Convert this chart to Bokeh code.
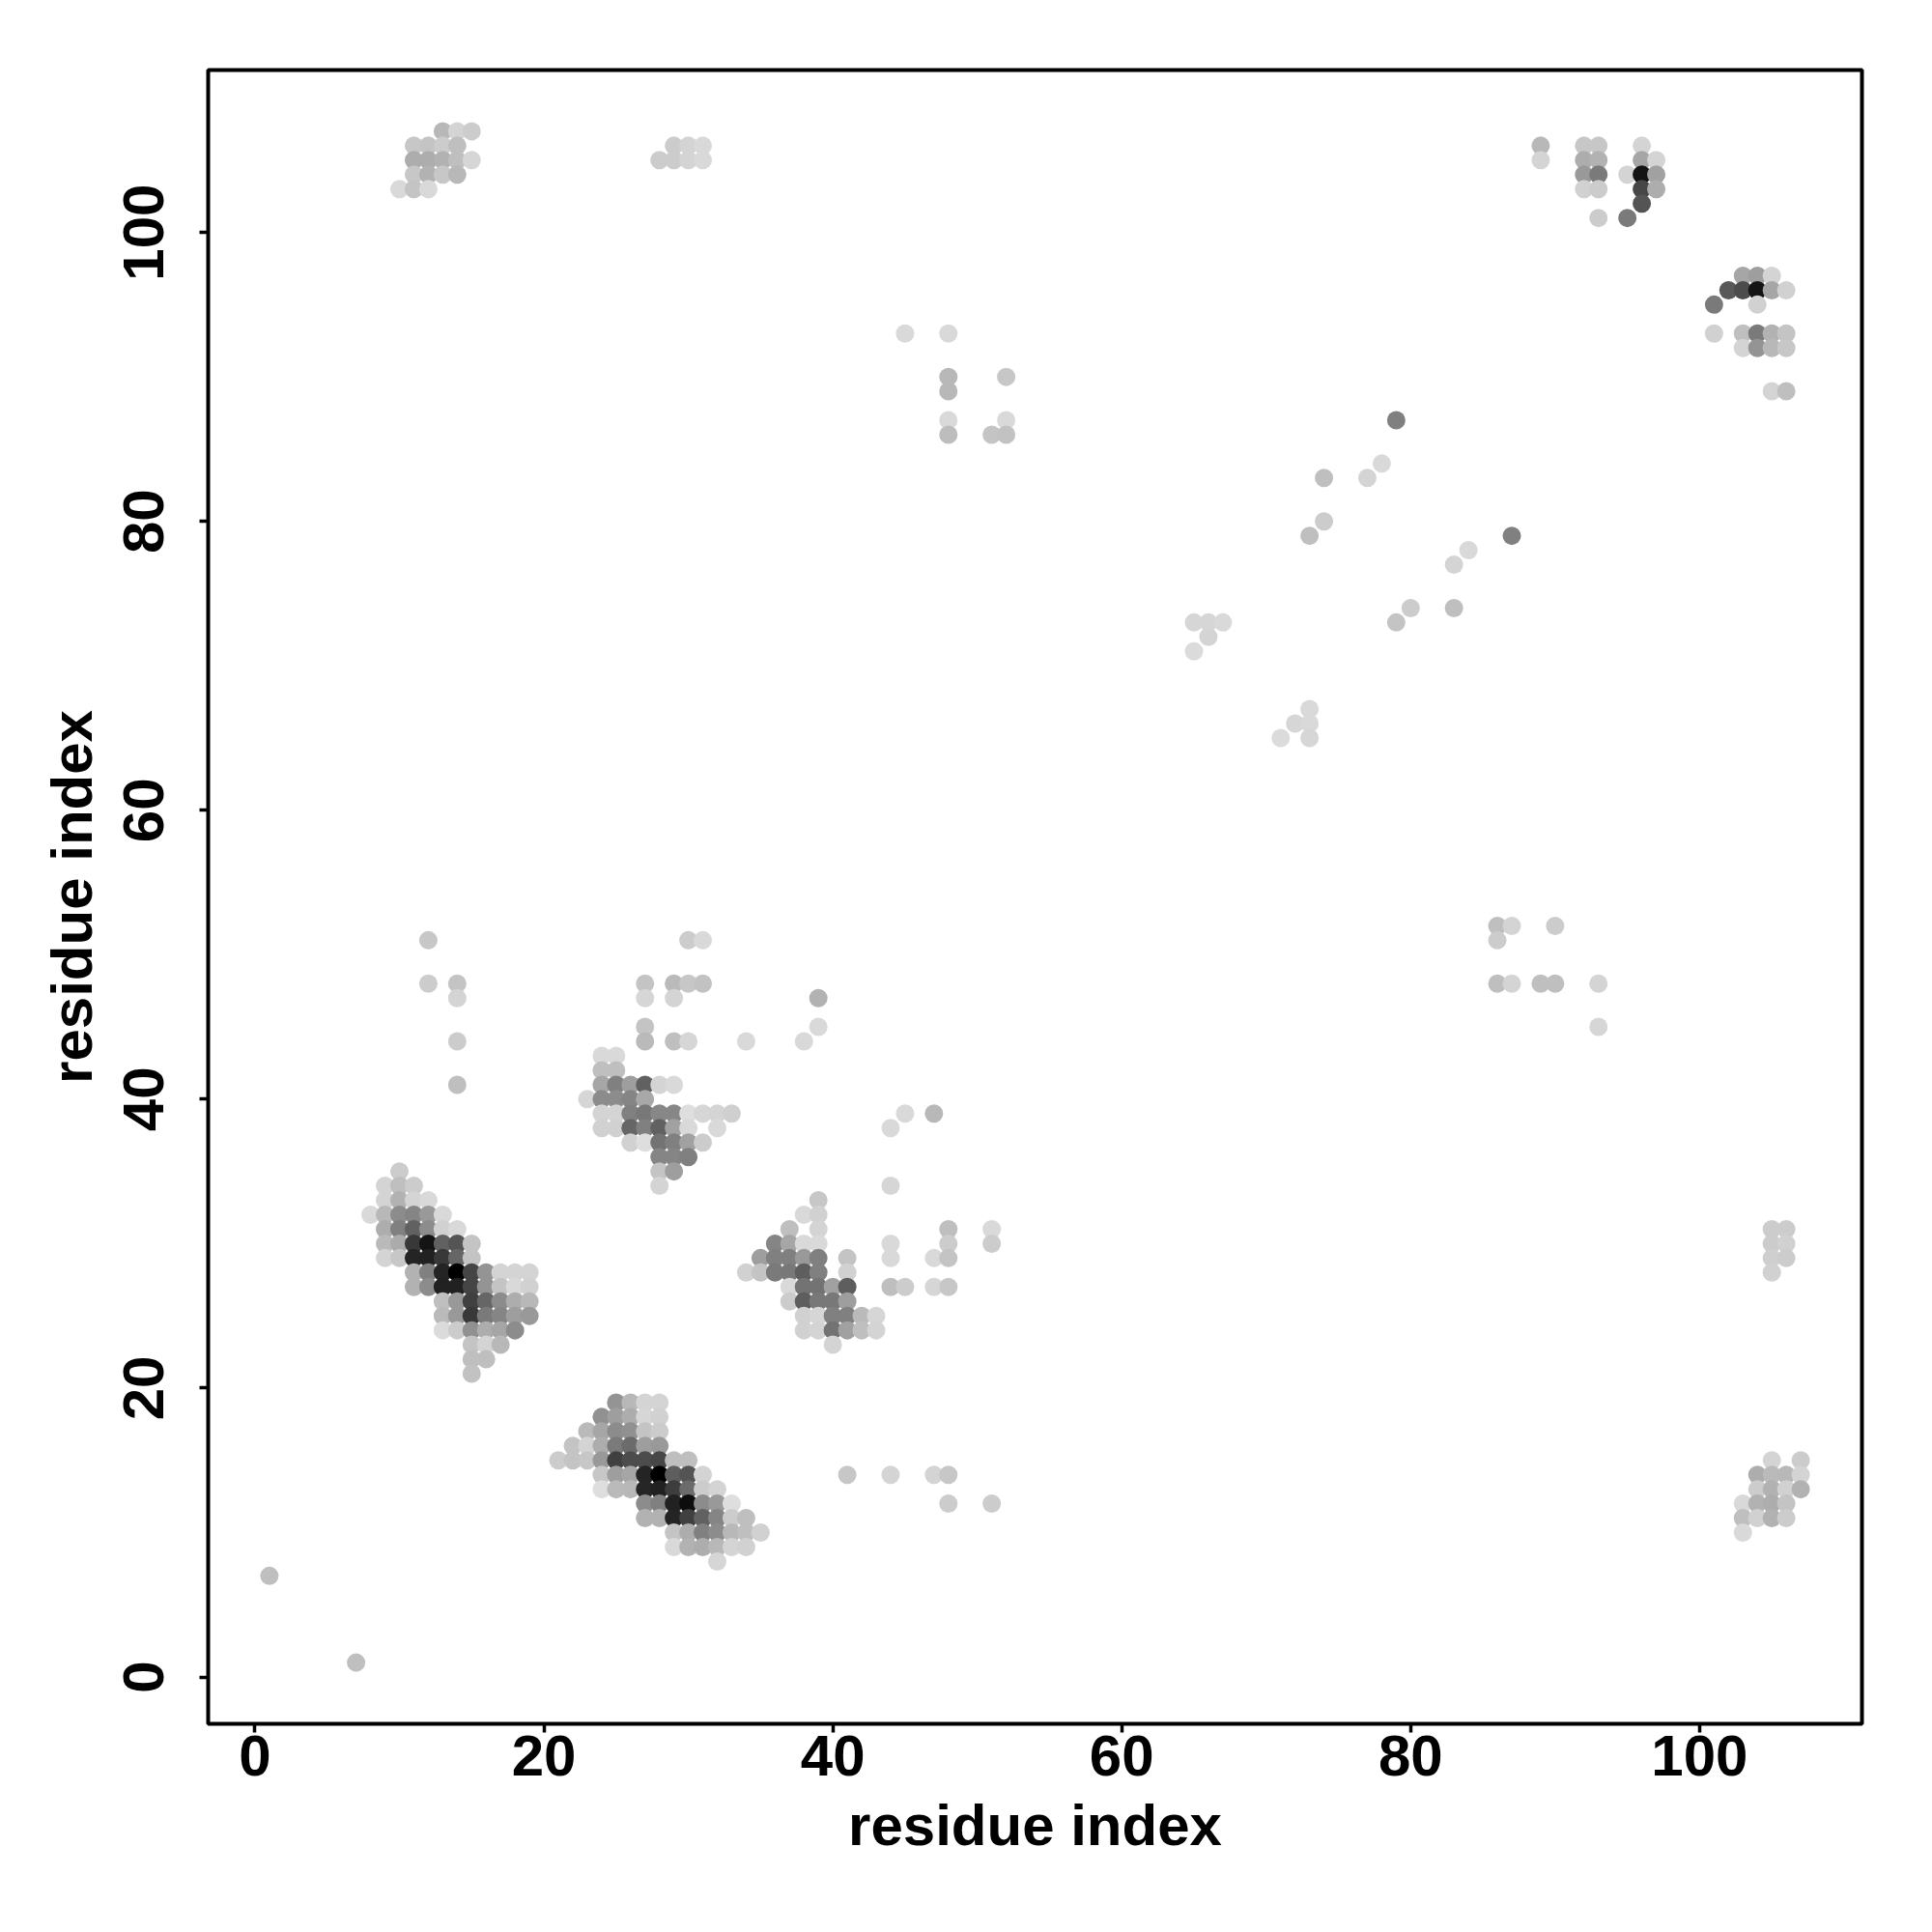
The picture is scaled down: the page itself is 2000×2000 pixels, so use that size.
from bokeh.plotting import figure
from bokeh.models import Range1d, FixedTicker, ColumnDataSource
from bokeh.embed import file_html
from bokeh.resources import INLINE

# each row: one value of y (residue index), its x residue indices, and grey levels
row_y = [
    # cluster around (14, 28)
    35, 34, 33, 32, 31, 30, 29, 28, 27, 26, 25, 24, 23, 22, 21,
    # cluster around (28, 38) with outliers above it
    51, 48, 47, 45, 44, 43, 42, 41, 40, 39, 38, 37, 36, 35, 34,
    # cluster around (28, 14)
    19, 18, 17, 16, 15, 14, 13, 12, 11, 10, 9, 8,
    # isolated low points
    7, 1, 14, 12,
    # cluster around (39, 27)
    33, 32, 31, 30, 29, 28, 27, 26, 25, 24, 23,
    # points right of it
    39, 38, 34, 31, 30, 29, 28, 27,
    # top left
    107, 106, 105, 104, 103,
    # top middle
    106, 105,
    # top right
    106, 105, 104, 103, 102, 101,
    # upper right
    97, 96, 95, 93, 92, 89,
    # bottom right
    15, 14, 13, 12, 11, 10,
    # right middle
    31, 30, 29, 28,
    # upper middle
    93, 90, 89, 87, 86,
    # central scatter
    87, 84, 83, 80, 79, 78, 77, 74, 73, 72, 71, 67, 66, 65,
    # centre right
    52, 51, 48, 45,
]
row_x = [
    [10], [9, 10, 11], [9, 10, 11, 12], [8, 9, 10, 11, 12, 13], [9, 10, 11, 12, 13, 14],
    [9, 10, 11, 12, 13, 14, 15], [9, 10, 11, 12, 13, 14, 15],
    [11, 12, 13, 14, 15, 16, 17, 18, 19], [11, 12, 13, 14, 15, 16, 17, 18, 19],
    [13, 14, 15, 16, 17, 18, 19], [13, 14, 15, 16, 17, 18, 19], [13, 14, 15, 16, 17, 18],
    [15, 16, 17], [15, 16], [15],

    [12, 30, 31], [12, 14, 27, 29, 30, 31], [14, 27, 29, 39], [27, 39], [14, 27, 29, 30, 34, 38],
    [24, 25], [24, 25], [14, 24, 25, 26, 27, 28, 29], [23, 24, 25, 26, 27],
    [24, 25, 26, 27, 28, 29, 30, 31, 32, 33], [24, 25, 26, 27, 28, 29, 30, 32],
    [26, 27, 28, 29, 30, 31], [28, 29, 30], [28, 29], [28],

    [25, 26, 27, 28], [24, 25, 26, 27, 28], [23, 24, 25, 26, 27, 28], [22, 23, 24, 25, 26, 27, 28],
    [21, 22, 23, 24, 25, 26, 27, 28, 29, 30], [24, 25, 26, 27, 28, 29, 30, 31],
    [24, 25, 26, 27, 28, 29, 30, 31, 32], [27, 28, 29, 30, 31, 32, 33],
    [27, 28, 29, 30, 31, 32, 33, 34], [29, 30, 31, 32, 33, 34, 35], [29, 30, 31, 32, 33, 34], [32],

    [1], [7], [41, 44, 47, 48], [48, 51],

    [39], [38, 39], [37, 39], [36, 37, 38, 39], [35, 36, 37, 38, 39], [34, 35, 36, 37, 38, 39],
    [37, 38, 39, 40, 41], [37, 38, 39, 40, 41], [38, 39, 40, 41, 42, 43], [38, 39, 40, 41, 42, 43], [40],

    [45, 47], [44], [44], [48, 51], [44, 48, 51], [41, 44, 47, 48], [41], [44, 45, 47, 48],

    [13, 14, 15], [11, 12, 13, 14], [11, 12, 13, 14, 15], [11, 12, 13, 14], [10, 11, 12],
    [29, 30, 31], [28, 29, 30, 31],

    [89, 92, 93, 96], [89, 92, 93, 96, 97], [92, 93, 95, 96, 97], [92, 93, 96, 97], [96], [93, 95],

    [103, 104, 105], [102, 103, 104, 105, 106], [101, 104], [101, 103, 104, 105, 106],
    [103, 104, 105, 106], [105, 106],

    [105, 107], [104, 105, 106, 107], [104, 105, 106, 107], [103, 104, 105, 106],
    [103, 104, 105, 106], [103],

    [105, 106], [105, 106], [105, 106], [105],

    [45, 48], [48, 52], [48], [48, 52], [48, 51, 52],

    [79], [78], [74, 77], [74], [73, 87], [84], [83], [80, 83], [65, 66, 67, 79], [66], [65],
    [73], [72, 73], [71, 73],

    [86, 87, 90], [86], [86, 87, 89, 90, 93], [93],
]
row_grey = [
    [.80], [.83, .75, .80], [.83, .70, .83, .85], [.85, .72, .55, .52, .60, .85],
    [.68, .50, .38, .55, .82, .85],
    [.73, .67, .22, .08, .38, .33, .77], [.83, .78, .14, .13, .22, .40, .77],
    [.70, .50, .14, .00, .27, .58, .83, .83, .83], [.70, .55, .13, .13, .27, .58, .77, .85, .82],
    [.75, .60, .25, .40, .55, .68, .72], [.73, .60, .22, .48, .52, .62, .60],
    [.86, .80, .57, .68, .65, .55],
    [.77, .83, .72], [.75, .75], [.76],

    [.78, .80, .85], [.80, .77, .77, .73, .78, .76], [.83, .84, .83, .70], [.77, .85],
    [.80, .73, .75, .84, .85, .85],
    [.85, .85], [.75, .75], [.75, .65, .50, .62, .38, .83, .85], [.84, .55, .55, .52, .66],
    [.83, .83, .50, .47, .53, .53, .87, .84, .83, .81], [.82, .82, .40, .50, .38, .63, .85, .85],
    [.82, .87, .45, .50, .63, .80], [.52, .52, .50], [.77, .62], [.83],

    [.58, .72, .83, .83], [.57, .62, .68, .84, .82], [.73, .65, .55, .57, .77, .80],
    [.77, .83, .68, .48, .42, .62, .60],
    [.80, .77, .78, .60, .25, .30, .30, .28, .75, .75], [.78, .62, .65, .14, .00, .37, .33, .83],
    [.87, .73, .72, .15, .13, .24, .42, .80, .83], [.55, .50, .13, .05, .55, .60, .87],
    [.70, .70, .14, .25, .38, .52, .80, .75], [.77, .68, .50, .55, .72, .75, .82],
    [.85, .70, .68, .72, .83, .82], [.84],

    [.75], [.75], [.78, .83, .83, .78], [.80, .80],

    [.78], [.85, .82], [.75, .83], [.52, .65, .85, .85], [.62, .50, .50, .60, .50],
    [.82, .77, .48, .47, .37, .50],
    [.85, .45, .45, .63, .37], [.80, .37, .47, .47, .62], [.82, .84, .50, .50, .73, .84],
    [.82, .83, .45, .63, .75, .83], [.83],

    [.85, .72], [.85], [.84], [.75, .85], [.85, .80, .80], [.77, .85, .85, .77], [.82], [.75, .80, .84, .78],

    [.72, .83, .80], [.78, .77, .80, .75], [.68, .68, .70, .75, .84], [.78, .70, .78, .72],
    [.85, .77, .85],
    [.80, .83, .85], [.80, .80, .83, .85],

    [.72, .78, .78, .83], [.83, .68, .70, .65, .83], [.60, .48, .83, .08, .63], [.82, .80, .28, .68],
    [.33], [.80, .48],

    [.65, .62, .83], [.35, .30, .08, .65, .82], [.48, .82], [.82, .75, .48, .70, .77],
    [.83, .58, .72, .78], [.83, .75],

    [.83, .80], [.68, .73, .72, .83], [.80, .70, .82, .70], [.85, .70, .68, .77],
    [.75, .82, .70, .80], [.85],

    [.80, .80], [.80, .82], [.81, .80], [.82],

    [.85, .85], [.72, .78], [.72], [.85, .85], [.74, .77, .76],

    [.50], [.85], [.75, .83], [.80], [.75, .50], [.85], [.83], [.80, .75], [.84, .84, .85, .77],
    [.83], [.86], [.85], [.84, .85], [.86, .84],

    [.75, .83, .80], [.80], [.75, .83, .75, .75, .83], [.84],
]
x_ticks = [0, 20, 40, 60, 80, 100]
y_ticks = [0, 20, 40, 60, 80, 100]
x_title = "residue index"
y_title = "residue index"

# later points cover earlier ones: x ascending, within x y descending
points = sorted(
    (
        (x, y, g)
        for y, xs, gs in zip(row_y, row_x, row_grey)
        for x, g in zip(xs, gs)
    ),
    key=lambda t: (t[0], -t[1]),
)
xs = [t[0] for t in points]
ys = [t[1] for t in points]
cols = ["#{0:02x}{0:02x}{0:02x}".format(round(t[2] * 255)) for t in points]
src = ColumnDataSource(dict(x=xs, y=ys, c=cols))

p = figure(
    output_backend="svg", toolbar_location=None,
    frame_width=1712, frame_height=1712,
    x_range=Range1d(-3.24, 111.24), y_range=Range1d(-3.24, 111.24),
    min_border_left=215, min_border_right=56, min_border_top=72, min_border_bottom=200,
    background_fill_color="white",
)
p.scatter("x", "y", source=src, size=19, color="c", line_color=None, marker="circle")

p.grid.visible = False
p.outline_line_color = "black"
p.outline_line_width = 4

for ax, ticks, title in ((p.xaxis[0], x_ticks, x_title), (p.yaxis[0], y_ticks, y_title)):
    ax.ticker = FixedTicker(ticks=ticks)
    ax.axis_label = title
    ax.axis_label_text_font = "Liberation Sans"
    ax.axis_label_text_font_style = "bold"
    ax.axis_label_text_font_size = "60px"
    ax.axis_label_text_color = "black"
    ax.major_label_text_font = "Liberation Sans"
    ax.major_label_text_font_style = "bold"
    ax.major_label_text_font_size = "60px"
    ax.major_label_text_color = "black"
    ax.axis_line_color = None
    ax.major_tick_line_color = "black"
    ax.major_tick_line_width = 3.5
    ax.major_tick_out = 9
    ax.major_tick_in = 0
    ax.minor_tick_out = 0
    ax.minor_tick_in = 0

p.yaxis[0].major_label_orientation = "vertical"
p.xaxis[0].major_label_standoff = 3
p.yaxis[0].major_label_standoff = 37
p.xaxis[0].axis_label_standoff = 15
p.yaxis[0].axis_label_standoff = 18

open("out.html", "w").write(file_html(p, INLINE))
